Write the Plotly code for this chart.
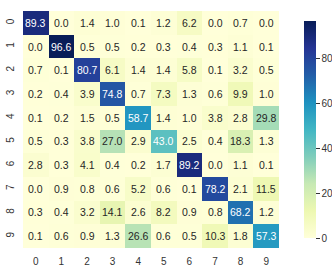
import plotly.graph_objects as go

labels = [str(i) for i in range(10)]
values = [
    [89.3, 0.0, 1.4, 1.0, 0.1, 1.2, 6.2, 0.0, 0.7, 0.0],
    [0.0, 96.6, 0.5, 0.5, 0.2, 0.3, 0.4, 0.3, 1.1, 0.1],
    [0.7, 0.1, 80.7, 6.1, 1.4, 1.4, 5.8, 0.1, 3.2, 0.5],
    [0.2, 0.4, 3.9, 74.8, 0.7, 7.3, 1.3, 0.6, 9.9, 1.0],
    [0.1, 0.2, 1.5, 0.5, 58.7, 1.4, 1.0, 3.8, 2.8, 29.8],
    [0.5, 0.3, 3.8, 27.0, 2.9, 43.0, 2.5, 0.4, 18.3, 1.3],
    [2.8, 0.3, 4.1, 0.4, 0.2, 1.7, 89.2, 0.0, 1.1, 0.1],
    [0.0, 0.9, 0.8, 0.6, 5.2, 0.6, 0.1, 78.2, 2.1, 11.5],
    [0.3, 0.4, 3.2, 14.1, 2.6, 8.2, 0.9, 0.8, 68.2, 1.2],
    [0.1, 0.6, 0.9, 1.3, 26.6, 0.6, 0.5, 10.3, 1.8, 57.3],
]
cbar_ticks = [0, 20, 40, 60, 80]

zmax = max(max(r) for r in values)

fig = go.Figure(go.Heatmap(
    z=values, x=labels, y=labels,
    colorscale="YlGnBu", zmin=0, zmax=zmax,
    xgap=0, ygap=0,
    colorbar=dict(
        x=1.059, xanchor="left", xref="paper",
        y=0.5, yanchor="middle", len=1.0, lenmode="fraction",
        thickness=12, outlinewidth=0,
        tickvals=cbar_ticks, ticks="outside", ticklen=4, tickwidth=1,
        tickcolor="#333333",
        tickfont=dict(family="Liberation Sans, Arial", size=10, color="#333333"),
    ),
    hoverinfo="skip",
))

annotations = []
for i, row in enumerate(values):
    for j, v in enumerate(row):
        annotations.append(dict(
            x=labels[j], y=labels[i], xref="x", yref="y",
            text=f"{v:.1f}", showarrow=False,
            font=dict(family="Liberation Sans, Arial", size=10.5,
                      color="white" if v > 35 else "#262626"),
        ))

fig.update_layout(
    width=332, height=273,
    margin=dict(l=23, r=53, t=11, b=25, autoexpand=False),
    paper_bgcolor="white", plot_bgcolor="white",
    annotations=annotations,
    xaxis=dict(showgrid=False, zeroline=False, ticks="", type="category",
               automargin=False, ticklabelstandoff=6,
               tickfont=dict(family="Liberation Sans, Arial", size=10, color="#333333")),
    yaxis=dict(showgrid=False, zeroline=False, ticks="", type="category",
               automargin=False, autorange="reversed", tickangle=-90,
               ticklabelstandoff=6,
               tickfont=dict(family="Liberation Sans, Arial", size=10, color="#333333")),
)

fig.write_html("out.html",
               config={"displayModeBar": False, "staticPlot": True},
               post_script="document.body.style.margin='0';document.body.style.overflow='hidden';")
